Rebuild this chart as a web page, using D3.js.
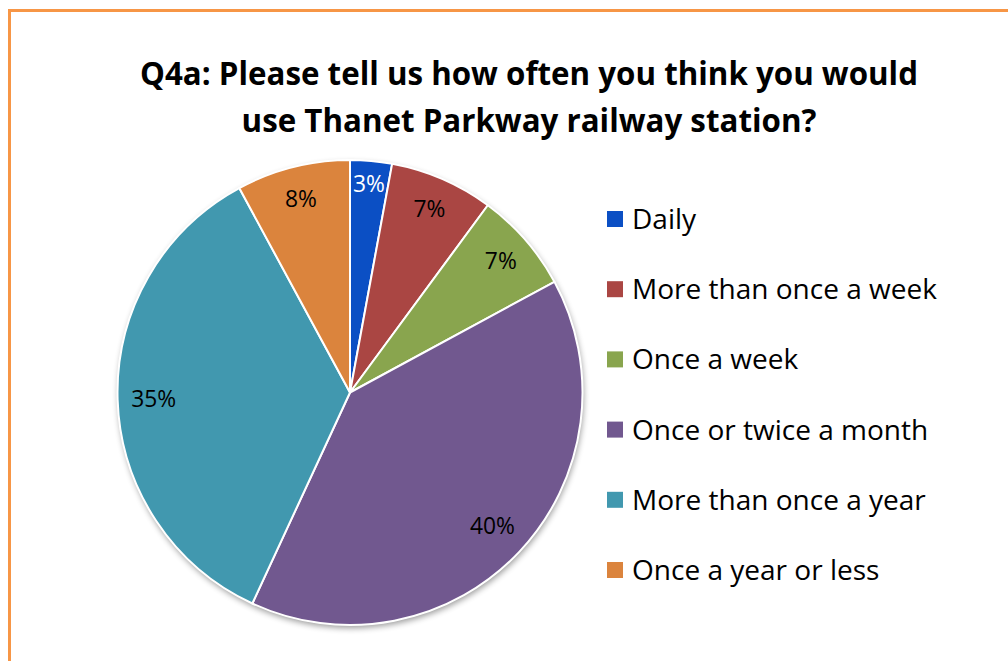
<!DOCTYPE html>
<html><head><meta charset="utf-8">
<script src="https://cdn.jsdelivr.net/npm/d3@7"></script>
<style>html,body{margin:0;padding:0;background:#fff;overflow:hidden}</style>
</head><body>
<svg id="c" width="1008" height="661"></svg>
<script>
const categories = ["Daily","More than once a week","Once a week","Once or twice a month","More than once a year","Once a year or less"];
const values = [2.9, 7.2, 7.0, 39.8, 35.2, 7.9];
const labels = ["3%","7%","7%","40%","35%","8%"];
const colors = ["#0B4FC4","#AA4643","#89A54E","#71588F","#4198AF","#DB843D"];
const titleLines = ["Q4a: Please tell us how often you think you would","use Thanet Parkway railway station?"];

const svg = d3.select("#c");
const font = "'Open Sans', sans-serif";
svg.append("rect").attr("x",0).attr("y",0).attr("width",1008).attr("height",661).attr("fill","#fff");
svg.append("rect").attr("x",9.5).attr("y",10.5).attr("width",1100).attr("height",800)
  .attr("fill","none").attr("stroke","#F79646").attr("stroke-width",3);

// fit font size so that a reference string has a target width
function fitSize(str, weight, target, base){
  const t = svg.append("text").attr("font-family",font).attr("font-weight",weight).attr("font-size",base).text(str);
  const w = t.node().getComputedTextLength(); t.remove();
  return base*target/w;
}
const titleSize = fitSize(titleLines[0],"bold",778,29);
const legSize = fitSize(categories[1],"normal",305,24);
const labSize = fitSize("35%","normal",45,20);

svg.append("text").attr("text-anchor","middle")
  .attr("font-family",font).attr("font-weight","bold").attr("font-size",titleSize).attr("fill","#000")
  .selectAll("tspan").data(titleLines).join("tspan")
  .attr("x",529).attr("y",(d,i)=>85+i*47).text(d=>d);

const defs = svg.append("defs");
const f = defs.append("filter").attr("id","sh").attr("x","-20%").attr("y","-20%").attr("width","140%").attr("height","140%");
f.append("feGaussianBlur").attr("in","SourceAlpha").attr("stdDeviation",3);
f.append("feOffset").attr("dx",1).attr("dy",3).attr("result","o");
f.append("feComponentTransfer").append("feFuncA").attr("type","linear").attr("slope",0.4);
const m = f.append("feMerge"); m.append("feMergeNode"); m.append("feMergeNode").attr("in","SourceGraphic");

const cx = 350, cy = 392.5, R = 232.5;
const pie = d3.pie().sort(null).value(d=>d)(values);
const arc = d3.arc().innerRadius(0).outerRadius(R);
const g = svg.append("g").attr("transform",`translate(${cx},${cy})`);
g.append("circle").attr("r",R).attr("fill","#fff").attr("filter","url(#sh)");
g.selectAll("path").data(pie).join("path").attr("d",arc)
  .attr("fill",(d,i)=>colors[i]).attr("stroke","#fff").attr("stroke-width",2).attr("stroke-linejoin","round");

const lr = [0.9,0.86,0.86,0.84,0.845,0.86];
g.selectAll("text.l").data(pie).join("text").attr("class","l")
  .attr("transform",(d,i)=>{const a=(d.startAngle+d.endAngle)/2, r=R*lr[i];return `translate(${Math.sin(a)*r},${-Math.cos(a)*r})`;})
  .attr("text-anchor","middle").attr("dy","0.36em")
  .attr("font-family",font).attr("font-size",labSize).attr("fill",(d,i)=>i===0?"#fff":"#000")
  .text((d,i)=>labels[i]);

const leg = svg.append("g").selectAll("g").data(categories).join("g")
  .attr("transform",(d,i)=>`translate(607,${219+i*70.2})`);
leg.append("rect").attr("x",0).attr("y",-8).attr("width",16).attr("height",16).attr("fill",(d,i)=>colors[i]);
leg.append("text").attr("x",25).attr("dy","0.36em").attr("font-family",font).attr("font-size",legSize).attr("fill","#000").text(d=>d);
</script>
</body></html>
